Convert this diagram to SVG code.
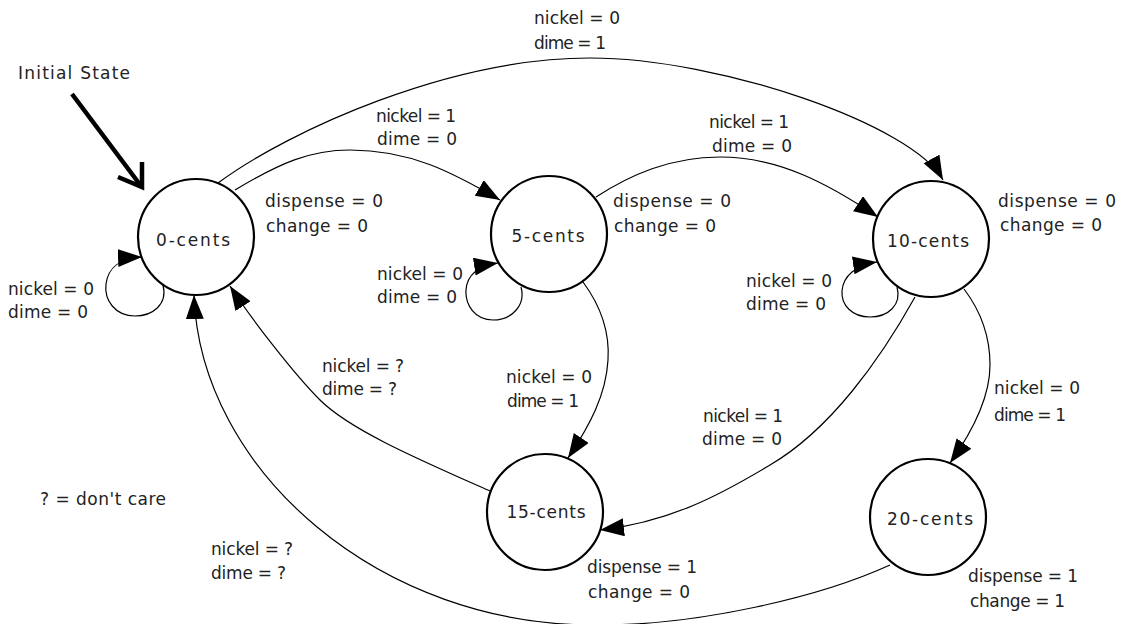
<svg xmlns="http://www.w3.org/2000/svg" width="1125" height="624" viewBox="0 0 1125 624">
<style>
  text { font-family: "DejaVu Sans", "Liberation Sans", sans-serif; font-size: 17px; fill: #222; }
  .lbl { text-anchor: middle; }
  .state { fill: #fff; stroke: #000; stroke-width: 2.2; }
  .edge { fill: none; stroke: #000; stroke-width: 1.2; marker-end: url(#ah); }
  .init { fill: none; stroke: #000; stroke-width: 4.5; }
</style>
<defs>
  <marker id="ah" markerUnits="userSpaceOnUse" markerWidth="26" markerHeight="20" refX="24" refY="9" orient="auto">
    <path d="M0,0 L24,9 L0,18 z" fill="#000"/>
  </marker>
</defs>
<rect width="1125" height="624" fill="#fff"/>

<g id="connectors">
  <!-- initial state arrow -->
  <line class="init" x1="72" y1="94" x2="141" y2="186"/>
  <polyline class="init" points="118,177 142,187 142,162" stroke-linejoin="miter"/>
  <!-- 0 -> 5 -->
  <path class="edge" d="M235,190 C280,163 310,150 350,150 C410,150 452,172 500,200"/>
  <!-- 0 -> 10 -->
  <path class="edge" d="M218,183 C290,130 450,58 590,58 C720,58 913,125 943,180"/>
  <!-- 5 -> 10 -->
  <path class="edge" d="M596,197 C630,175 670,157 720,157 C780,157 830,185 878,217"/>
  <!-- 0 self loop -->
  <path class="edge" d="M163,285 C168,305 152,316 135,316 C115,316 104,300 106,284 C108,268 120,258 142,257"/>
  <!-- 5 self loop -->
  <path class="edge" d="M521,287 C526,305 512,320 493,320 C475,320 465,305 466,290 C467,275 478,266 498,263"/>
  <!-- 10 self loop -->
  <path class="edge" d="M897,287 C902,305 888,317 870,317 C852,317 841,305 842,291 C843,276 856,265 877,262"/>
  <!-- 5 -> 15 -->
  <path class="edge" d="M583,282 C600,305 610,330 608,360 C606,395 590,425 568,458"/>
  <!-- 10 -> 15 -->
  <path class="edge" d="M915,297 C880,360 830,430 770,465 C720,495 670,522 600,530"/>
  <!-- 10 -> 20 -->
  <path class="edge" d="M964,289 C980,310 990,335 990,365 C990,400 970,435 950,463"/>
  <!-- 15 -> 0 -->
  <path class="edge" d="M490,491 C420,460 350,430 320,400 C295,375 252,320 230,286"/>
  <!-- 20 -> 0 -->
  <path class="edge" d="M890,565 C820,597 700,625 600,625 C380,628 200,470 194,295"/>
</g>

<g id="edge-labels">
  <text x="18" y="79" textLength="112">Initial State</text>
  <text x="376" y="122" textLength="80">nickel = 1</text>
  <text x="377" y="145" textLength="80">dime = 0</text>
  <text x="534" y="24" textLength="86">nickel = 0</text>
  <text x="534" y="49" textLength="72">dime = 1</text>
  <text x="709" y="128" textLength="80">nickel = 1</text>
  <text x="712" y="152" textLength="80">dime = 0</text>
  <text x="8" y="295" textLength="86">nickel = 0</text>
  <text x="8" y="318" textLength="80">dime = 0</text>
  <text x="377" y="280" textLength="86">nickel = 0</text>
  <text x="377" y="303" textLength="80">dime = 0</text>
  <text x="746" y="287" textLength="86">nickel = 0</text>
  <text x="746" y="310" textLength="80">dime = 0</text>
  <text x="506" y="383" textLength="86">nickel = 0</text>
  <text x="507" y="407" textLength="72">dime = 1</text>
  <text x="703" y="422" textLength="80">nickel = 1</text>
  <text x="702" y="445" textLength="80">dime = 0</text>
  <text x="994" y="394" textLength="86">nickel = 0</text>
  <text x="994" y="421" textLength="72">dime = 1</text>
  <text x="322" y="372" textLength="82">nickel = ?</text>
  <text x="322" y="395" textLength="75">dime = ?</text>
  <text x="211" y="555" textLength="82">nickel = ?</text>
  <text x="211" y="579" textLength="75">dime = ?</text>
  <text x="40" y="505" textLength="126">? = don't care</text>
</g>

<g id="node-0">
  <circle class="state" cx="196" cy="237" r="58"/>
  <text class="lbl" x="193" y="246" textLength="74">0-cents</text>
  <text x="265" y="207" textLength="118">dispense = 0</text>
  <text x="266" y="232" textLength="102">change = 0</text>
</g>
<g id="node-5">
  <circle class="state" cx="549" cy="234" r="58"/>
  <text class="lbl" x="548" y="242" textLength="73">5-cents</text>
  <text x="613" y="207" textLength="118">dispense = 0</text>
  <text x="614" y="232" textLength="102">change = 0</text>
</g>
<g id="node-10">
  <circle class="state" cx="931" cy="239" r="58"/>
  <text class="lbl" x="928" y="247" textLength="82">10-cents</text>
  <text x="998" y="207" textLength="118">dispense = 0</text>
  <text x="1000" y="231" textLength="102">change = 0</text>
</g>
<g id="node-15">
  <circle class="state" cx="545" cy="512" r="58"/>
  <text class="lbl" x="546" y="518" textLength="79">15-cents</text>
  <text x="587" y="573" textLength="110">dispense = 1</text>
  <text x="588" y="598" textLength="102">change = 0</text>
</g>
<g id="node-20">
  <circle class="state" cx="928" cy="517" r="58"/>
  <text class="lbl" x="930" y="525" textLength="86">20-cents</text>
  <text x="968" y="582" textLength="110">dispense = 1</text>
  <text x="970" y="607" textLength="95">change = 1</text>
</g>
</svg>
